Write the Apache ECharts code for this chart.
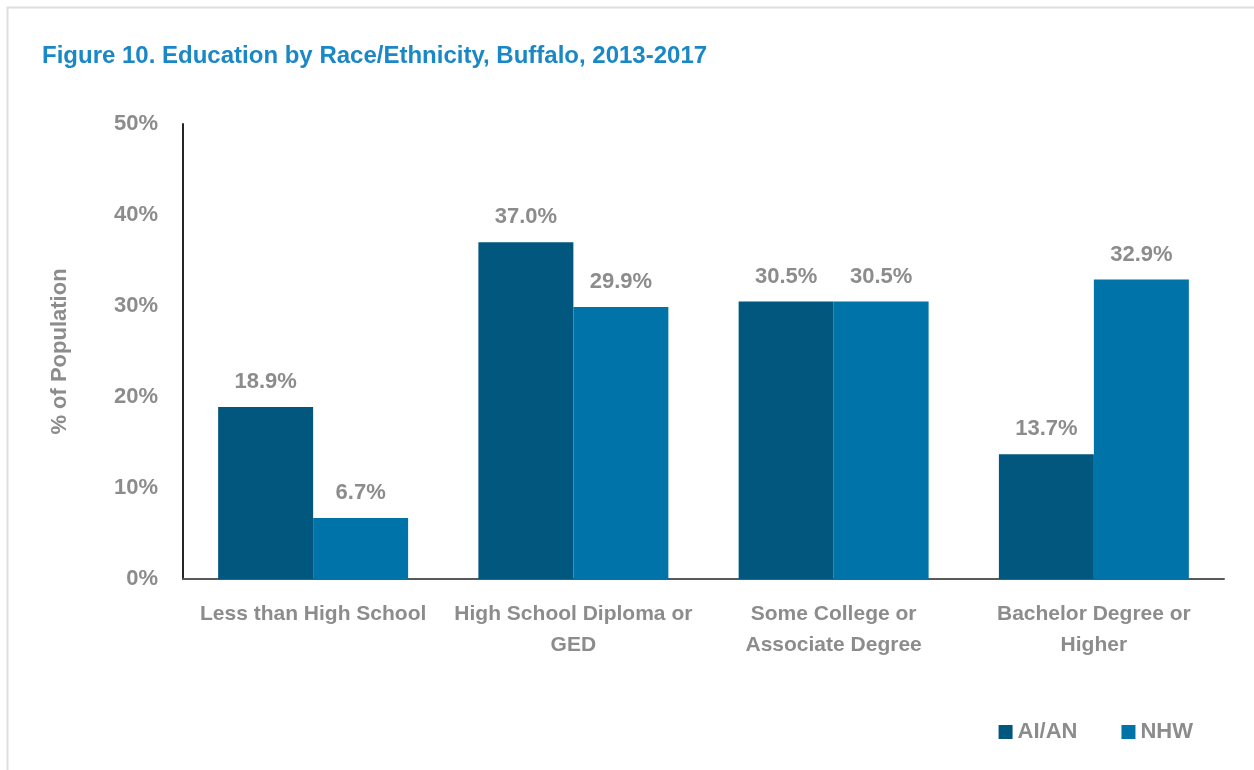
<!DOCTYPE html>
<html><head><meta charset="utf-8">
<script src="https://cdn.jsdelivr.net/npm/echarts@6/dist/echarts.min.js"></script>
<style>html,body{margin:0;padding:0;background:#fff}#c{width:1254px;height:770px}</style>
</head><body><div id="c"></div>
<script>
const categories = ['Less than High School', 'High School Diploma or\nGED', 'Some College or\nAssociate Degree', 'Bachelor Degree or\nHigher'];
const aian = [18.9, 37.0, 30.5, 13.7];
const nhw = [6.7, 29.9, 30.5, 32.9];
const yTicks = [0, 10, 20, 30, 40, 50];

const FONT = '"Liberation Sans Narrow", "Arial Narrow", "Liberation Sans", Arial, sans-serif';
const GRAY = '#8c8c8c';
const chart = echarts.init(document.getElementById('c'), null, {renderer: 'canvas'});
const lbl = {show: true, position: 'top', distance: 14, formatter: p => p.value.toFixed(1) + '%', color: GRAY, fontFamily: FONT, fontWeight: 'bold', fontSize: 22};
chart.setOption({
  animation: false,
  title: {text: 'Figure 10. Education by Race/Ethnicity, Buffalo, 2013-2017', left: 37, top: 39,
    textStyle: {color: '#1a87c6', fontFamily: FONT, fontWeight: 'bold', fontSize: 24}},
  graphic: [{type: 'rect', shape: {x: 7.5, y: 7.5, width: 1260, height: 800}, style: {fill: 'none', stroke: '#dedede', lineWidth: 2}, silent: true}],
  legend: {right: 56, bottom: 22, itemWidth: 14, itemHeight: 14, itemGap: 44, itemTextGap: 6, icon: 'rect',
    textStyle: {color: GRAY, fontFamily: FONT, fontWeight: 'bold', fontSize: 22}},
  grid: {left: 183, right: 30, top: 124, bottom: 191},
  xAxis: {type: 'category', data: categories,
    axisLine: {lineStyle: {color: '#595959', width: 2}}, axisTick: {show: false},
    axisLabel: {color: GRAY, fontFamily: FONT, fontWeight: 'bold', fontSize: 21, lineHeight: 31, margin: 20, interval: 0}},
  yAxis: {type: 'value', min: 0, max: 50, interval: 10,
    name: '% of Population', nameLocation: 'middle', nameGap: 112, nameRotate: 90,
    nameTextStyle: {color: GRAY, fontFamily: FONT, fontWeight: 'bold', fontSize: 22},
    axisLine: {show: true, lineStyle: {color: '#262626', width: 2}}, axisTick: {show: false}, splitLine: {show: false},
    axisLabel: {formatter: v => yTicks.includes(v) ? v + '%' : '', color: GRAY, fontFamily: FONT, fontWeight: 'bold', fontSize: 22, margin: 25}},
  series: [
    {name: 'AI/AN', type: 'bar', data: aian, barGap: '0%', barCategoryGap: '27%', itemStyle: {color: '#01577e'}, label: lbl},
    {name: 'NHW', type: 'bar', data: nhw, barGap: '0%', barCategoryGap: '27%', itemStyle: {color: '#0073a8'}, label: lbl}
  ]
});
</script></body></html>
